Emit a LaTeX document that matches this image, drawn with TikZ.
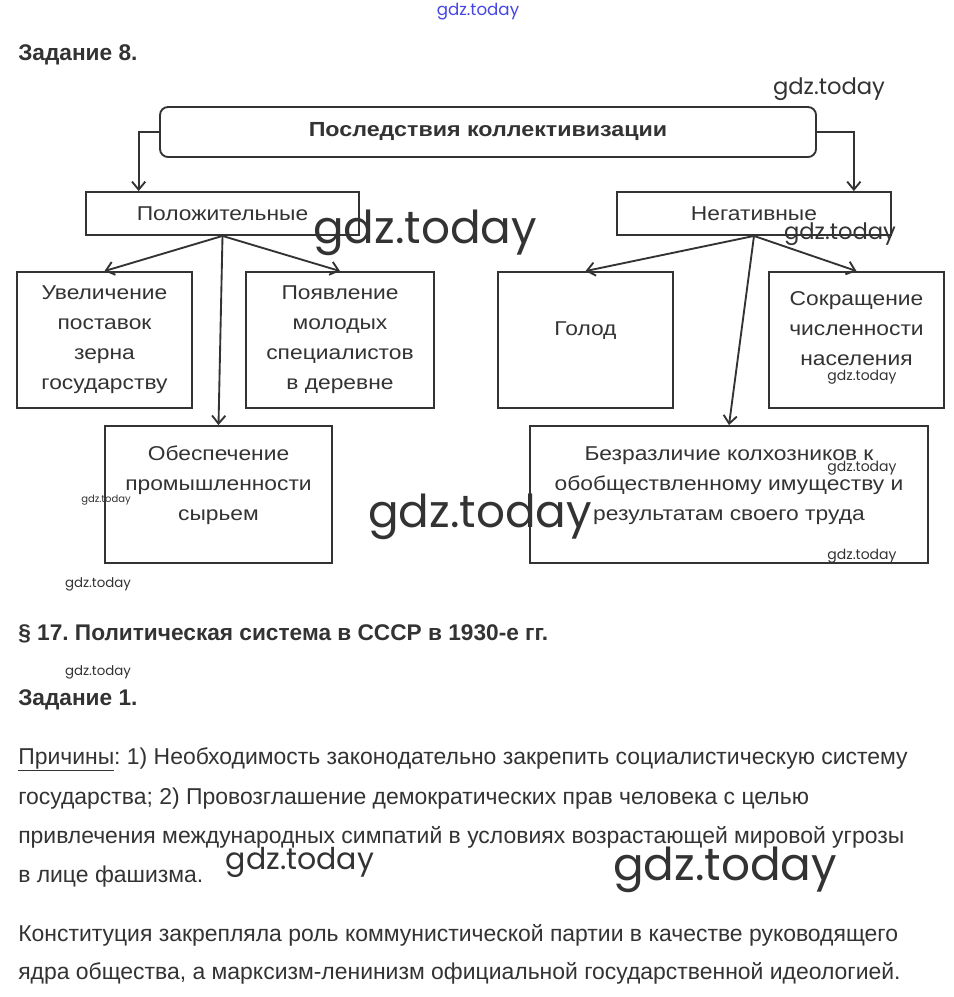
\documentclass[tikz,border=0pt]{standalone}
\usepackage{fontspec}
\usepackage{xcolor}
\usetikzlibrary{arrows.meta, positioning, calc}

\newfontfamily\diagfont[FakeStretch=1.14]{Liberation Sans}
\newfontfamily\headfont{Liberation Sans}
\newfontfamily\wmfont{Poppins}

\definecolor{inkgray}{RGB}{51,51,51}
\definecolor{wmblue}{RGB}{70,70,230}

\frenchspacing

\begin{document}
\begin{tikzpicture}[
    x=0.75pt, y=-0.75pt,
    box/.style     = {draw=inkgray, line width=1.4pt, align=center, inner sep=2pt,
                      font=\diagfont\fontsize{15}{22.5}\selectfont, text=inkgray},
    lowbox/.style  = {box, text depth=17pt},
    titlebox/.style= {box, rounded corners=6pt,
                      font=\diagfont\bfseries\fontsize{15.3}{18}\selectfont},
    arr/.style     = {-{Straight Barb[length=6pt, width=10pt]}, line width=1.4pt, inkgray},
    head/.style    = {anchor=base west, inner sep=0pt, text=inkgray,
                      font=\headfont\bfseries\fontsize{17}{20}\selectfont},
    para/.style    = {anchor=base west, inner sep=0pt, text=inkgray,
                      font=\headfont\fontsize{17.2}{20}\selectfont},
    wm/.style      = {inner sep=0pt, text=black!80, font=\wmfont},
]

%% ── Page ────────────────────────────────────────────────────────────────────
\fill[white] (0,0) rectangle (954,997);
\useasboundingbox (0,0) rectangle (954,997);

\node[head] (task8) at (18,60) {Задание 8.};

%% ── Root and two branches ───────────────────────────────────────────────────
\node[titlebox, minimum width=492pt, minimum height=37.5pt]
                                  (root) at (488,132) {Последствия коллективизации};
\node[box, minimum width=204.75pt, minimum height=32.25pt]
                                  (pos)  at (222.5,213.5) {Положительные};
\node[box, minimum width=205.5pt, minimum height=32.25pt]
                                  (neg)  at (754,213.5) {Негативные};

%% ── Positive consequences ───────────────────────────────────────────────────
\node[box, minimum width=131.25pt, minimum height=102pt]
                                  (grain) at (104.5,340) {Увеличение\\поставок\\зерна\\государству};
\node[box, minimum width=141pt, minimum height=102pt]
                                  (young) at (340,340) {Появление\\молодых\\специалистов\\в деревне};
\node[lowbox, minimum width=170.25pt, minimum height=102.75pt]
                                  (raw)   at (218.5,494.5) {Обеспечение\\промышленности\\сырьем};

%% ── Negative consequences ───────────────────────────────────────────────────
\node[lowbox, minimum width=131.25pt, minimum height=102pt]
                                  (famine) at (585.5,340) {Голод};
\node[lowbox, minimum width=131.25pt, minimum height=102pt]
                                  (popul)  at (856.5,340) {Сокращение\\численности\\населения};
\node[lowbox, minimum width=298.5pt, minimum height=102.75pt]
                                  (apathy) at (729,494.5) {Безразличие колхозников к\\обобществленному имуществу и\\результатам своего труда};

%% ── Arrows ──────────────────────────────────────────────────────────────────
\draw[arr] (root.west) -| ($(pos.north west)!0.195!(pos.north east)$);
\draw[arr] (root.east) -| ($(neg.north west)!0.862!(neg.north east)$);

\draw[arr] (pos.south) -- (grain.north);
\draw[arr] (pos.south) -- (raw.north);
\draw[arr] (pos.south) -- (young.north);

\draw[arr] (neg.south) -- (famine.north);
\draw[arr] (neg.south) -- (apathy.north);
\draw[arr] (neg.south) -- (popul.north);

%% ── Text below ──────────────────────────────────────────────────────────────
\node[head] (par17) at (18,640) {§ 17. Политическая система в СССР в 1930-е гг.};
\node[head] (task1) at (18,705) {Задание 1.};

\node[para] (l1) at (18,764) {\underline{Причины}: 1) Необходимость законодательно закрепить социалистическую систему};
\node[para] (l2) at (18,804) {государства; 2) Провозглашение демократических прав человека с целью};
\node[para] (l3) at (18,843) {привлечения международных симпатий в условиях возрастающей мировой угрозы};
\node[para] (l4) at (18,882) {в лице фашизма.};
\node[para] (l5) at (18,941) {Конституция закрепляла роль коммунистической партии в качестве руководящего};
\node[para] (l6) at (18,979) {ядра общества, а марксизм-ленинизм официальной государственной идеологией.};

%% ── Watermarks ──────────────────────────────────────────────────────────────
\node[wm, text=wmblue, font=\wmfont\fontsize{12.5}{14}\selectfont] (wm1)  at (478,12)  {gdz.today};
\node[wm, font=\wmfont\fontsize{17}{20}\selectfont]   (wm2)  at (829,89)  {gdz.today};
\node[wm, font=\wmfont\fontsize{34}{40}\selectfont]   (wm3)  at (425,233) {gdz.today};
\node[wm, font=\wmfont\fontsize{17}{20}\selectfont]   (wm4)  at (840,234) {gdz.today};
\node[wm, font=\wmfont\fontsize{10.5}{12}\selectfont] (wm5)  at (862,377) {gdz.today};
\node[wm, font=\wmfont\fontsize{7.5}{9}\selectfont]   (wm6)  at (106,500) {gdz.today};
\node[wm, font=\wmfont\fontsize{10}{12}\selectfont]   (wm7)  at (98,584)  {gdz.today};
\node[wm, font=\wmfont\fontsize{10.5}{12}\selectfont] (wm8)  at (862,468) {gdz.today};
\node[wm, font=\wmfont\fontsize{10.5}{12}\selectfont] (wm9)  at (862,556) {gdz.today};
\node[wm, font=\wmfont\fontsize{34}{40}\selectfont]   (wm10) at (480,517) {gdz.today};
\node[wm, font=\wmfont\fontsize{10}{12}\selectfont]   (wm11) at (98,672)  {gdz.today};
\node[wm, font=\wmfont\fontsize{22.5}{26}\selectfont] (wm12) at (300,862) {gdz.today};
\node[wm, font=\wmfont\fontsize{34}{40}\selectfont]   (wm13) at (725,870) {gdz.today};

\end{tikzpicture}
\end{document}
